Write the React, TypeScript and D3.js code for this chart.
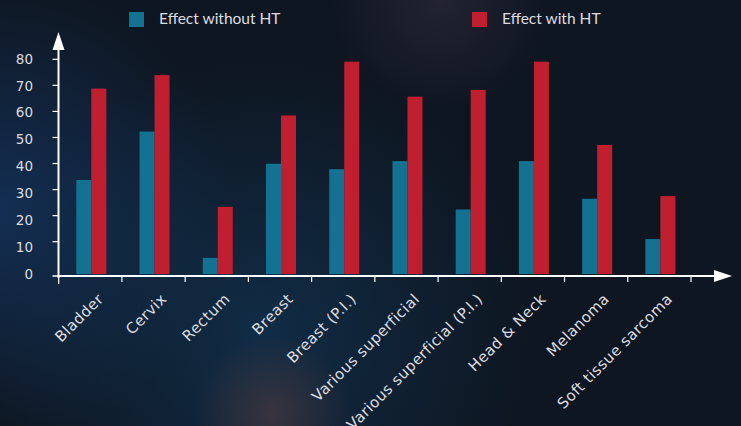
import React from 'react';
import * as d3 from 'd3';

const categories = [
  'Bladder', 'Cervix', 'Rectum', 'Breast', 'Breast (P.I.)',
  'Various superficial', 'Various superficial (P.I.)', 'Head & Neck', 'Melanoma', 'Soft tissue sarcoma',
];
const withoutHT = [35, 53, 6, 41, 39, 42, 24, 42, 28, 13];
const withHT = [69, 74, 25, 59, 79, 66, 68.5, 79, 48, 29];
const yTicks = [0, 10, 20, 30, 40, 50, 60, 70, 80];
const seriesNames = ['Effect without HT', 'Effect with HT'];
const colors = ['#137292', '#bf1f2f'];

const W = 741;
const H = 426;

export default function App() {
  const x = d3.scaleBand<string>().domain(categories).range([58.7, 691]).padding(0);
  const y = d3.scaleLinear().domain([0, 80]).range([274, 59]);
  // tick marks sit a touch off the labels in the original
  const yTick = d3.scaleLinear().domain([10, 80]).range([241.7, 59.3]);
  const barW = 15;
  const axisY = 276;
  const axisX = 58.5;
  const font = 'Lato, "Open Sans", sans-serif';
  const labFont = '"DejaVu Sans", sans-serif';
  const txt = '#dcdde0';

  return (
    <svg width={W} height={H} style={{ position: 'absolute', left: 0, top: 0 }}>
      <defs>
        <radialGradient id="gLeft" cx="0" cy="210" r="230" gradientUnits="userSpaceOnUse">
          <stop offset="0" stopColor="#14335c" stopOpacity="0.85" />
          <stop offset="1" stopColor="#14335c" stopOpacity="0" />
        </radialGradient>
        <radialGradient id="gBlue" cx="260" cy="330" r="270" gradientUnits="userSpaceOnUse">
          <stop offset="0" stopColor="#123656" stopOpacity="0.7" />
          <stop offset="1" stopColor="#123656" stopOpacity="0" />
        </radialGradient>
        <radialGradient id="gWarm" cx="272" cy="415" r="80" gradientUnits="userSpaceOnUse">
          <stop offset="0" stopColor="#4a3a40" stopOpacity="0.7" />
          <stop offset="1" stopColor="#4a3a40" stopOpacity="0" />
        </radialGradient>
        <radialGradient id="gTop" cx="440" cy="0" r="110" gradientUnits="userSpaceOnUse">
          <stop offset="0" stopColor="#2c2838" stopOpacity="0.7" />
          <stop offset="1" stopColor="#2c2838" stopOpacity="0" />
        </radialGradient>
      </defs>
      <rect width={W} height={H} fill="#0e1621" />
      <rect width={W} height={H} fill="url(#gLeft)" />
      <rect width={W} height={H} fill="url(#gBlue)" />
      <rect width={W} height={H} fill="url(#gWarm)" />
      <rect width={W} height={H} fill="url(#gTop)" />

      {/* legend */}
      {seriesNames.map((s, i) => {
        const lx = i === 0 ? 129 : 472;
        return (
          <g key={s}>
            <rect x={lx} y={12} width={15} height={15} fill={colors[i]} />
            <text x={lx + 30} y={23.5} fill={txt} fontFamily={font} fontSize={15.5}>{s}</text>
          </g>
        );
      })}

      {/* bars */}
      {categories.map((c, i) => {
        const cx = (x(c) as number) + x.bandwidth() / 2 + 1;
        return (
          <g key={c}>
            <rect x={cx - barW} y={y(withoutHT[i])} width={barW} height={y(0) - y(withoutHT[i])} fill={colors[0]} />
            <rect x={cx} y={y(withHT[i])} width={barW} height={y(0) - y(withHT[i])} fill={colors[1]} />
          </g>
        );
      })}

      {/* y axis */}
      <line x1={axisX} x2={axisX} y1={axisY + 2} y2={46} stroke="#fff" strokeWidth={2} />
      <path d={`M${axisX},32 L${axisX + 6},50 L${axisX - 6},50 Z`} fill="#fff" />
      {yTicks.map((t) => (
        <g key={t}>
          {t > 0 && <line x1={axisX - 6} x2={axisX} y1={yTick(t)} y2={yTick(t)} stroke="#fff" strokeWidth={1.2} />}
          <text x={33} y={y(t)} dy="0.35em" textAnchor="end" fill={txt} fontFamily={labFont} fontSize={13.5}>{t}</text>
        </g>
      ))}
      <line x1={axisX - 6} x2={axisX} y1={axisY} y2={axisY} stroke="#fff" strokeWidth={1.5} />

      {/* x axis */}
      <line x1={axisX} x2={716} y1={axisY} y2={axisY} stroke="#fff" strokeWidth={2} />
      <path d={`M732,${axisY} L714,${axisY - 6} L714,${axisY + 6} Z`} fill="#fff" />
      {[...categories.map((c) => x(c) as number), 691].map((tx, i) => (
        <line key={i} x1={tx} x2={tx} y1={axisY} y2={axisY + (i === 0 ? 8 : 6)} stroke="#fff" strokeWidth={1.2} />
      ))}
      {categories.map((c) => {
        const cx = (x(c) as number) + x.bandwidth() / 2;
        return (
          <text
            key={c}
            transform={`translate(${cx + 14},${axisY + 24}) rotate(-45)`}
            textAnchor="end"
            fill={txt}
            fontFamily={labFont}
            fontSize={15}
            letterSpacing={0.4}
          >
            {c}
          </text>
        );
      })}
    </svg>
  );
}
